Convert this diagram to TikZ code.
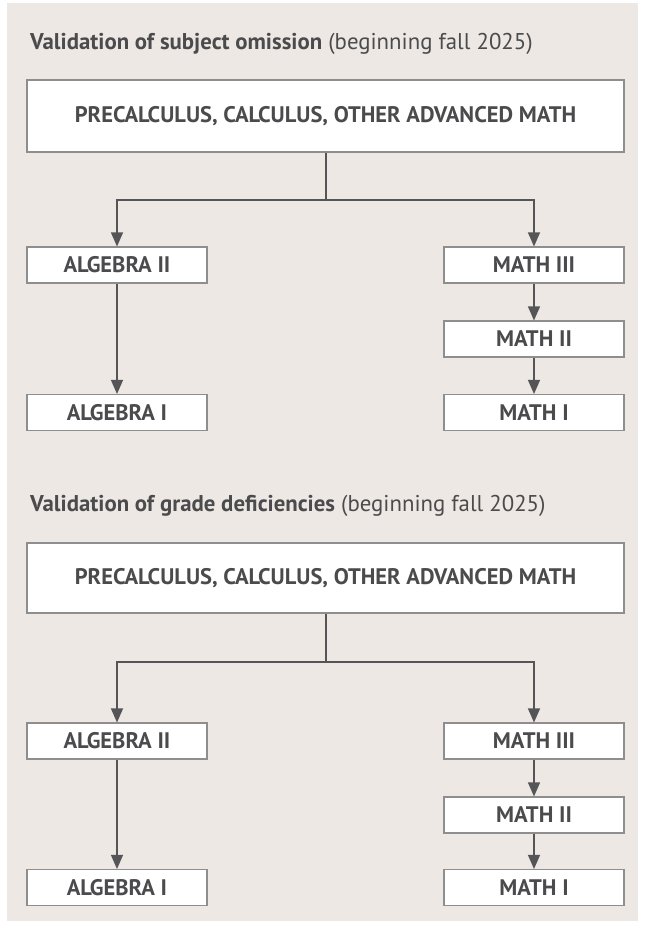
\documentclass[tikz,border=0pt]{standalone}
\usepackage{fontspec}
\setmainfont{PT Sans}
\usetikzlibrary{arrows.meta}
\definecolor{bgc}{HTML}{EDE8E4}
\definecolor{txt}{HTML}{4B4B4D}
\definecolor{linec}{HTML}{555557}
\definecolor{boxline}{HTML}{8E8E8E}
\tikzset{
  bigbox/.style={draw=boxline, line width=1.1bp, fill=white, minimum width=597bp, inner sep=0pt, text=txt, font=\fontsize{22.6}{26}\selectfont\bfseries},
  smallbox/.style={draw=boxline, line width=1.1bp, fill=white, minimum width=180bp, minimum height=36bp, inner sep=0pt, text=txt, font=\fontsize{22.6}{26}\selectfont\bfseries},
  title/.style={anchor=base west, inner sep=0pt, text=txt, font=\fontsize{22.9}{26}\selectfont},
  conn/.style={draw=linec, line width=1.2bp},
  arr/.style={conn, -{Triangle[length=14bp,width=12bp]}, color=linec}
}
\begin{document}
\begin{tikzpicture}[x=1bp,y=-1bp]
\useasboundingbox (0,0) rectangle (649,925);
\fill[bgc] (7,3) rectangle (638,921);
% section 1
\node[title] (t1) at (30,49) {\textbf{Validation of subject omission} (beginning fall 2025)};
\node[bigbox, minimum height=72bp] (top1) at (325.5,116) {PRECALCULUS, CALCULUS, OTHER ADVANCED MATH};
\coordinate (h1) at (326,200);
\node[smallbox] (alg2a) at (117,265) {ALGEBRA II};
\node[smallbox] (alg1a) at (117,412.5) {ALGEBRA I};
\node[smallbox] (m3a) at (534,265) {MATH III};
\node[smallbox] (m2a) at (534,339) {MATH II};
\node[smallbox] (m1a) at (534,412.5) {MATH I};
\draw[conn] (top1.south -| h1) -- (h1);
\draw[arr] (h1) -| (alg2a.north);
\draw[arr] (h1) -| (m3a.north);
\draw[arr] (alg2a) -- (alg1a);
\draw[arr] (m3a) -- (m2a);
\draw[arr] (m2a) -- (m1a);
% section 2
\node[title] (t2) at (30,511) {\textbf{Validation of grade deficiencies} (beginning fall 2025)};
\node[bigbox, minimum height=70bp] (top2) at (325.5,578) {PRECALCULUS, CALCULUS, OTHER ADVANCED MATH};
\coordinate (h2) at (326,662);
\node[smallbox] (alg2b) at (117,741) {ALGEBRA II};
\node[smallbox] (alg1b) at (117,887.5) {ALGEBRA I};
\node[smallbox] (m3b) at (534,741) {MATH III};
\node[smallbox] (m2b) at (534,815) {MATH II};
\node[smallbox] (m1b) at (534,887.5) {MATH I};
\draw[conn] (top2.south -| h2) -- (h2);
\draw[arr] (h2) -| (alg2b.north);
\draw[arr] (h2) -| (m3b.north);
\draw[arr] (alg2b) -- (alg1b);
\draw[arr] (m3b) -- (m2b);
\draw[arr] (m2b) -- (m1b);
\end{tikzpicture}
\end{document}
